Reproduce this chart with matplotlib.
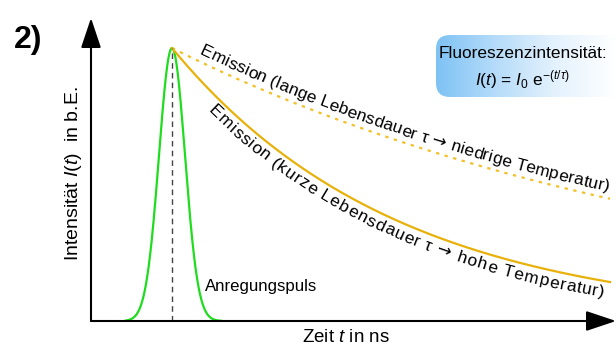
import numpy as np
import matplotlib.pyplot as plt
from matplotlib.patches import FancyBboxPatch
from matplotlib.colors import LinearSegmentedColormap
from matplotlib.font_manager import findfont, FontProperties
from matplotlib.ft2font import FT2Font
from matplotlib.transforms import IdentityTransform

plt.rcParams['font.family'] = ['Liberation Sans', 'DejaVu Sans']
plt.rcParams['mathtext.fontset'] = 'custom'
plt.rcParams['mathtext.rm'] = 'Liberation Sans'
plt.rcParams['mathtext.it'] = 'Liberation Sans:italic'

# Schema-Parameter, Zeit in ns, Intensitaet in b.E.
t_puls = 1.62        # Lage des Anregungspulses
sigma_puls = 0.26    # Breite des Pulses
I0 = 1.0
tau_lang = 10.9      # lange Lebensdauer -> niedrige Temperatur
tau_kurz = 4.5       # kurze Lebensdauer -> hohe Temperatur
t_ende = 10.38
t_max = 10.5
I_max = 1.11

txt_lang = 'Emission (lange Lebensdauer τ → niedrige Temperatur)'
txt_kurz = 'Emission (kurze Lebensdauer τ → hohe Temperatur)'

t_p = np.linspace(0.7, 2.6, 300)
puls = I0 * np.exp(-0.5 * ((t_p - t_puls) / sigma_puls) ** 2)
t_e = np.linspace(t_puls, t_ende, 400)
em_lang = I0 * np.exp(-(t_e - t_puls) / tau_lang)
em_kurz = I0 * np.exp(-(t_e - t_puls) / tau_kurz)

W, H = 616, 345
DPI = 100
fig = plt.figure(figsize=(W / DPI, H / DPI), dpi=DPI)

def fx(x):
    return x / W

def fy(y):
    return 1 - y / H

ax = fig.add_axes([fx(91), fy(321), fx(616) - fx(91), fy(18) - fy(321)])
ax.set_xlim(0, t_max)
ax.set_ylim(0, I_max)
ax.axis('off')

gold = '#e8b10a'
ax.plot(t_p, puls, color='#1fdc1f', lw=1.6, clip_on=False)
ax.plot(t_e, em_kurz, color=gold, lw=1.6)
ax.plot(t_e, em_lang, color='#f2c028', lw=1.6, ls=(0, (1.5, 2.5)))
ax.plot([t_puls, t_puls], [0, I0], color='#444444', lw=1.0, ls=(0, (4, 3)))

# Achsen mit Pfeilen
pfeil = dict(arrowstyle='-|>,head_length=1.85,head_width=0.62', mutation_scale=10,
             color='black', lw=1.5, shrinkA=0, shrinkB=0)
ax.annotate('', xy=(0, 1), xytext=(0, 0), xycoords='axes fraction', arrowprops=pfeil)
ax.annotate('', xy=(1, 0), xytext=(0, 0), xycoords='axes fraction', arrowprops=pfeil)


def vorschub(ch, size):
    fam = 'DejaVu Sans' if ch == '→' else 'Liberation Sans'
    f = FT2Font(findfont(FontProperties(family=fam)))
    f.set_size(size, DPI)
    if f.get_char_index(ord(ch)) == 0:
        fam = 'DejaVu Sans'
        f = FT2Font(findfont(FontProperties(family=fam)))
        f.set_size(size, DPI)
    g = f.load_char(ord(ch))
    return g.linearHoriAdvance / 65536.0, fam


def text_entlang(t, y, s, start_px, abstand, size, sperrung=1.0):
    P = ax.transData.transform(np.column_stack([t, y]))
    d = np.gradient(P, axis=0)
    T = d / np.hypot(d[:, 0], d[:, 1])[:, None]
    N = np.column_stack([-T[:, 1], T[:, 0]])
    Q = P + abstand * N
    seg = np.hypot(np.diff(Q[:, 0]), np.diff(Q[:, 1]))
    bogen = np.concatenate([[0], np.cumsum(seg)])
    pos = np.interp(start_px, Q[:, 0], bogen)
    winkel = np.degrees(np.arctan2(np.gradient(Q[:, 1]), np.gradient(Q[:, 0])))
    for ch in s:
        adv, fam = vorschub(ch, size)
        adv *= sperrung
        m = pos + adv / 2
        if ch != ' ':
            x = np.interp(m, bogen, Q[:, 0])
            yy = np.interp(m, bogen, Q[:, 1])
            w = np.interp(m, bogen, winkel)
            fig.text(x, yy, ch, transform=IdentityTransform(), fontsize=size,
                     family=fam, rotation=w, rotation_mode='anchor',
                     ha='center', va='baseline')
        pos += adv


text_entlang(t_e, em_lang, txt_lang, 199, 6.5, 12.5, 1.01)
text_entlang(t_e, em_kurz, txt_kurz, 207, -16.5, 12.5, 1.1)

fig.text(fx(14), fy(40), '2)', fontsize=23, fontweight='bold', va='center', ha='left')
fig.text(fx(74), fy(174), r'Intensität $\mathit{I(t)}$  in b.E.', rotation=90,
         fontsize=14, ha='center', va='center')
fig.text(fx(346), fy(342), r'Zeit $\mathit{t}$ in ns', fontsize=13.5, ha='center', va='baseline')
fig.text(fx(205), fy(286), 'Anregungspuls', fontsize=12.1, ha='left', va='center')

# Kasten mit Farbverlauf
ov = fig.add_axes([0, 0, 1, 1], zorder=-1)
ov.set_xlim(0, W)
ov.set_ylim(H, 0)
ov.axis('off')
box = FancyBboxPatch((448, 47), 200, 38, boxstyle='round,pad=12,rounding_size=14',
                     facecolor='none', edgecolor='none')
ov.add_patch(box)
cmap = LinearSegmentedColormap.from_list('bx', ['#7ec2f4', '#b6dcf9', '#e4f2fd', '#ffffff'])
grad = np.linspace(0, 1, 256)[None, :]
im = ov.imshow(grad, cmap=cmap, extent=(436, 616, 97, 35), aspect='auto', interpolation='bilinear')
im.set_clip_path(box)

fig.text(fx(523), fy(53), 'Fluoreszenzintensität:', fontsize=12.4, ha='center', va='center')
fig.text(fx(522), fy(80), r'$\mathit{I(t)}$ = $\mathit{I}_\mathit{0}$ e$^{\mathit{-(t/\tau)}}$',
         fontsize=12.4, ha='center', va='center')

fig.savefig('out.png', dpi=DPI)
